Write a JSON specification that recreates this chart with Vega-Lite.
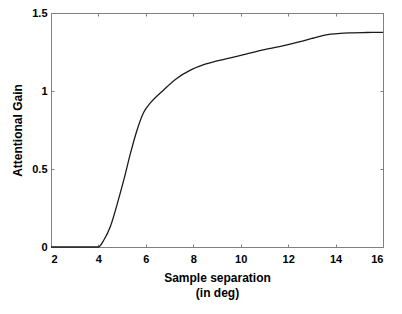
{
  "$schema": "https://vega.github.io/schema/vega-lite/v6.json",
  "width": 332,
  "height": 234,
  "autosize": "none",
  "padding": {"left": 51, "top": 13, "right": 19, "bottom": 67},
  "background": "white",
  "config": {
    "view": {"stroke": "#808080", "strokeWidth": 1},
    "axis": {
      "domain": false,
      "grid": false,
      "tickColor": "#808080",
      "tickSize": -3,
      "labelFont": "Liberation Sans",
      "labelFontWeight": "bold",
      "labelFontSize": 11,
      "labelColor": "#000000",
      "titleFont": "Liberation Sans",
      "titleFontWeight": "bold",
      "titleFontSize": 12,
      "titleColor": "#000000"
    }
  },
  "data": {
    "values": [
      {"x": 2, "y": 0}, {"x": 3, "y": 0}, {"x": 4, "y": 0},
      {"x": 4.23, "y": 0.045}, {"x": 4.5, "y": 0.13}, {"x": 4.8, "y": 0.28},
      {"x": 5.07, "y": 0.43}, {"x": 5.35, "y": 0.6}, {"x": 5.63, "y": 0.75},
      {"x": 5.9, "y": 0.86}, {"x": 6.2, "y": 0.925}, {"x": 6.75, "y": 1.007},
      {"x": 7.3, "y": 1.08}, {"x": 7.9, "y": 1.135}, {"x": 8.5, "y": 1.172},
      {"x": 9.0, "y": 1.193}, {"x": 10.0, "y": 1.228}, {"x": 11.0, "y": 1.265},
      {"x": 12.0, "y": 1.297}, {"x": 12.5, "y": 1.316}, {"x": 13.0, "y": 1.337},
      {"x": 13.5, "y": 1.356}, {"x": 13.8, "y": 1.364}, {"x": 14.2, "y": 1.37},
      {"x": 14.6, "y": 1.373}, {"x": 15.3, "y": 1.375}, {"x": 16, "y": 1.376}
    ]
  },
  "layer": [
    {
      "mark": {"type": "line", "color": "#1a1a1a", "strokeWidth": 1.3, "interpolate": "monotone"},
      "encoding": {
        "x": {
          "field": "x", "type": "quantitative",
          "scale": {"domain": [2, 16], "nice": false, "zero": false},
          "axis": {"values": [2, 4, 6, 8, 10, 12, 14, 16], "title": ["Sample separation", "(in deg)"], "titleLineHeight": 15, "labelPadding": 9, "titlePadding": 8}
        },
        "y": {
          "field": "y", "type": "quantitative",
          "scale": {"domain": [0, 1.5], "nice": false},
          "axis": {"values": [0, 0.5, 1, 1.5], "format": "~g", "title": "Attentional Gain", "labelPadding": 7, "titlePadding": 7}
        }
      }
    },
    {
      "mark": {"type": "line", "opacity": 0},
      "encoding": {
        "x": {
          "field": "x", "type": "quantitative",
          "axis": {"orient": "top", "values": [2, 4, 6, 8, 10, 12, 14, 16], "labels": false, "title": null}
        },
        "y": {
          "field": "y", "type": "quantitative",
          "axis": {"orient": "right", "values": [0, 0.5, 1, 1.5], "labels": false, "title": null}
        }
      }
    }
  ],
  "resolve": {"axis": {"x": "independent", "y": "independent"}}
}
